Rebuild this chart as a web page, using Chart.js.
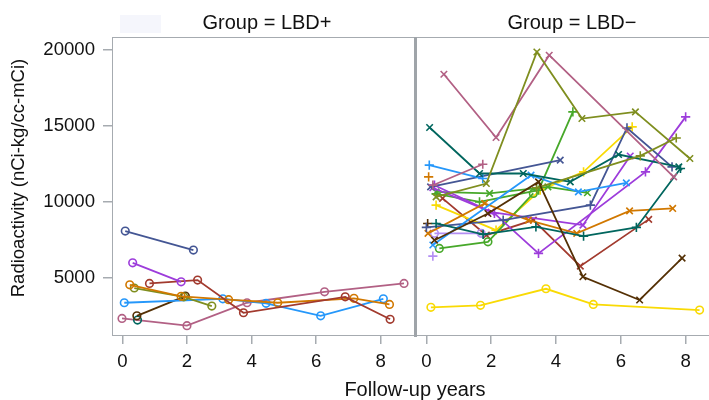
<!DOCTYPE html>
<html>
<head>
<meta charset="utf-8">
<script src="https://cdn.jsdelivr.net/npm/chart.js@4.4.0/dist/chart.umd.min.js"></script>
<style>
  html, body { margin: 0; padding: 0; background: #fff; overflow: hidden; }
  #wrap { position: relative; width: 709px; height: 400px; overflow: hidden;
          font-family: "Liberation Sans", Arial, sans-serif; color: #111; }
  canvas { position: absolute; top: 0; }
  #leftChart { left: 0; }
  #rightChart { left: 416px; }
  .lbl { position: absolute; white-space: nowrap; line-height: 24px; height: 24px; text-align: center; }
  .head { top: 10px; font-size: 20px; width: 200px; }
  #sep { position: absolute; left: 414px; top: 37px; width: 3px; height: 300px; background: #9fa4a9; }
  #ghost { position: absolute; left: 120px; top: 15px; width: 41px; height: 18px; background: #f5f6fc; }
</style>
</head>
<body>
<div id="wrap">
  <canvas id="leftChart" width="415" height="400"></canvas>
  <canvas id="rightChart" width="304" height="400"></canvas>
  <div id="sep"></div>
  <div id="ghost"></div>
  <div class="lbl head" style="left:167px;">Group = LBD+</div>
  <div class="lbl head" style="left:472px;">Group = LBD&minus;</div>
  <div class="lbl" style="left:265px; top:377px; width:300px; font-size:20px;">Follow-up years</div>
  <div class="lbl" style="left:-132px; top:166px; width:300px; font-size:18.5px; transform:rotate(-90deg);">Radioactivity (nCi-kg/cc-mCi)</div>
</div>
<script>
// axis ticks
var xTicks = [0, 2, 4, 6, 8];
var yTicks = [5000, 10000, 15000, 20000];

// Group = LBD+ (one row per subject)
var posYears = [
  [0.09, 2.2],
  [0.32, 1.82],
  [0.84, 2.33, 3.75, 6.9, 8.29],
  [0.23, 1.82, 3.29, 4.81, 7.17, 8.27],
  [0.37, 1.9, 2.77],
  [0.06, 3.11, 4.45, 6.14, 8.08],
  [0.45, 1.95],
  [0.47],
  [-0.01, 2.0, 3.86, 6.26, 8.72]
];
var posValues = [
  [8050, 6800],
  [5960, 4710],
  [4600, 4820, 2670, 3720, 2240],
  [4510, 3750, 3530, 3330, 3620, 3220],
  [4300, 3720, 3110],
  [3330, 3590, 3290, 2470, 3590],
  [2470, 3770],
  [2190],
  [2300, 1820, 3330, 4050, 4600]
];

// Group = LBD- (one row per subject)
var negYears = [
  [0.14, 1.67, 3.69, 5.15, 8.43],
  [0.25, 1.9, 3.46, 4.83, 6.58, 7.89],
  [0.3, 1.85, 3.41, 4.8, 6.45, 8.13],
  [3.4, 6.6, 7.71],
  [0.54, 2.15, 3.79, 7.63],
  [0.2, 1.74],
  [0.1, 1.64, 2.99, 4.44, 5.93, 7.79],
  [0.3, 1.75, 3.38, 4.85, 6.48, 7.84],
  [0.09, 1.74],
  [0.2, 3.23, 4.69, 6.17],
  [0.13, 4.13],
  [0.0, 2.37, 5.06, 6.19, 7.58],
  [0.05, 1.8, 3.15, 4.64, 6.27, 7.6],
  [0.07],
  [0.25, 2.1, 3.46, 6.76, 8.0],
  [0.2, 2.0, 4.83, 6.29],
  [0.25, 1.69],
  [0.2],
  [0.4, 1.9, 3.3],
  [0.3, 1.64, 3.46, 4.52],
  [0.3, 1.95, 3.75, 4.97],
  [0.3, 2.15, 3.51, 4.85, 6.35],
  [0.5, 1.85, 3.3, 4.75, 6.86],
  [0.04]
];
var negValues = [
  [3030, 3160, 4250, 3220, 2850],
  [7450, 9210, 11290, 5040, 3510, 6270],
  [10300, 11180, 19840, 15460, 15900, 12830],
  [10900, 13000, 14180],
  [18380, 14210, 19630, 11620],
  [11070, 12450],
  [14870, 11840, 11840, 11290, 13090, 12280],
  [8550, 7830, 8330, 7720, 8290, 12170],
  [12390, 11510],
  [7130, 11730, 10630, 11220],
  [10960, 12720],
  [8290, 8770, 9760, 14840, 12280],
  [7900, 9870, 8770, 7900, 9380, 9540],
  [11620],
  [11070, 9210, 6580, 11950, 15570],
  [10900, 9300, 8440, 12990],
  [7900, 7900],
  [6400],
  [6910, 7340, 10530],
  [10500, 9970, 10740, 15900],
  [10630, 10530, 10960, 10570],
  [9760, 8110, 10740, 11950, 14910],
  [10200, 7780, 8770, 5740, 8820],
  [8550]
];

// styles
var palette = {
  slate: '#445694', brick: '#A23A2E', teal: '#01665E', brown: '#543005',
  violet: '#9D3CDB', olive: '#7F8E1F', sky: '#2597FA', mauve: '#B26084',
  orange: '#D17800', green: '#47A82A', lavender: '#B38EF3', yellow: '#F9DA04'
};
var posColors = ['slate', 'violet', 'brick', 'orange', 'olive', 'sky', 'brown', 'teal', 'mauve'];
var negColors = ['yellow', 'brown', 'olive', 'olive', 'mauve', 'mauve', 'teal', 'teal', 'sky', 'sky',
  'slate', 'slate', 'orange', 'orange', 'violet', 'violet', 'lavender', 'lavender', 'green', 'green',
  'green', 'yellow', 'brick', 'brown'];
var negMarkers = ['circle', 'crossRot', 'crossRot', 'cross', 'crossRot', 'cross', 'crossRot', 'cross', 'cross', 'crossRot',
  'crossRot', 'cross', 'crossRot', 'cross', 'cross', 'crossRot', 'circle', 'cross', 'circle', 'cross',
  'crossRot', 'cross', 'crossRot', 'cross'];

var axisGray = '#a6abb0';
var tickFont = { family: 'Liberation Sans', size: 18.6 };

function makeSets(years, values, colors, markers) {
  var sets = [];
  for (var i = 0; i < years.length; i++) {
    var pts = [];
    for (var j = 0; j < years[i].length; j++) {
      pts.push({ x: years[i][j], y: values[i][j] });
    }
    var c = palette[colors[i]];
    var m = markers ? markers[i] : 'circle';
    sets.push({
      data: pts,
      borderColor: c,
      backgroundColor: 'rgba(255,255,255,0)',
      borderWidth: 1.8,
      pointStyle: m,
      pointRadius: m === 'circle' ? 3.8 : 4.6,
      pointBorderWidth: 1.6,
      pointBorderColor: c,
      pointBackgroundColor: 'rgba(255,255,255,0)',
      tension: 0
    });
  }
  return sets;
}

var framePlugin = {
  id: 'frame',
  beforeDatasetsDraw: function(chart, args, opts) {
    var a = chart.chartArea, ctx = chart.ctx;
    ctx.save();
    ctx.strokeStyle = axisGray;
    ctx.lineWidth = 1;
    ctx.beginPath();
    ctx.moveTo(a.left, a.top + 0.5); ctx.lineTo(a.right, a.top + 0.5);
    ctx.moveTo(a.left, a.bottom - 0.5); ctx.lineTo(a.right, a.bottom - 0.5);
    if (opts.left) { ctx.moveTo(a.left + 0.5, a.top); ctx.lineTo(a.left + 0.5, a.bottom); }
    ctx.stroke();
    ctx.restore();
  }
};

function xScale(h) {
  return {
    type: 'linear', min: -0.32, max: 9.06,
    afterBuildTicks: function(s) { s.ticks = xTicks.map(function(v) { return { value: v }; }); },
    afterFit: function(s) { s.height = h; s.paddingLeft = 0; s.paddingRight = 0; },
    grid: { drawOnChartArea: false, drawTicks: true, tickLength: 8, color: axisGray, lineWidth: 1.5 },
    border: { display: false },
    ticks: { font: tickFont, color: '#111', padding: 7, maxRotation: 0,
             callback: function(v) { return String(v); } }
  };
}

function yScale(show) {
  return {
    type: 'linear', min: 1140, max: 20830, display: show,
    afterBuildTicks: function(s) { s.ticks = yTicks.map(function(v) { return { value: v }; }); },
    afterFit: function(s) { s.width = show ? 112 : 0; s.paddingTop = 0; s.paddingBottom = 0; },
    grid: { drawOnChartArea: false, drawTicks: true, tickLength: 9, color: axisGray, lineWidth: 1.5 },
    border: { display: false },
    ticks: { font: tickFont, color: '#111', padding: 8,
             callback: function(v) { return String(v); } }
  };
}

function makeChart(id, sets, showY) {
  var ctx = document.getElementById(id).getContext('2d');
  return new Chart(ctx, {
    type: 'line',
    data: { datasets: sets },
    options: {
      responsive: false,
      maintainAspectRatio: false,
      animation: false,
      devicePixelRatio: 1,
      layout: { autoPadding: false, padding: { top: 37, left: 0, right: 0, bottom: 0 } },
      plugins: { legend: { display: false }, tooltip: { enabled: false }, frame: { left: showY } },
      scales: { x: xScale(64), y: yScale(showY) }
    },
    plugins: [framePlugin]
  });
}

makeChart('leftChart', makeSets(posYears, posValues, posColors, null), true);
makeChart('rightChart', makeSets(negYears, negValues, negColors, negMarkers), false);
</script>
</body>
</html>
